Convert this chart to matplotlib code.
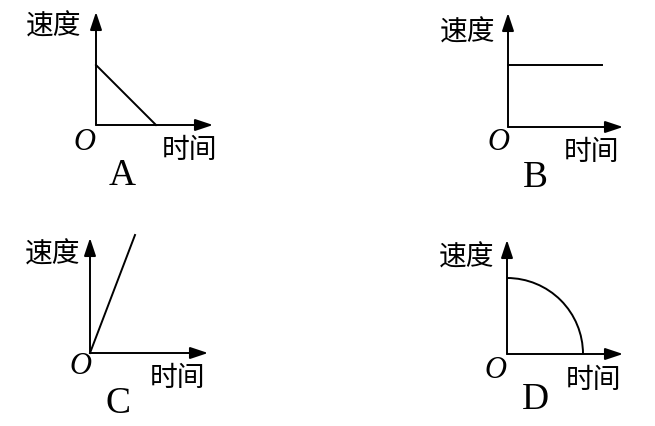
import matplotlib.pyplot as plt
from matplotlib.patches import Arc

plt.rcParams['font.family'] = ['Noto Sans CJK SC', 'DejaVu Sans']

W, H = 655, 426
PX = 20.0  # pixels per data unit

# data (time, speed) for each option
a_time = [0, 3.0]
a_speed = [3.0, 0]
b_time = [0, 4.7]
b_speed = [3.1, 3.1]
c_time = [0, 2.25]
c_speed = [0, 5.9]
d_radius = 3.8   # quarter circle

panel_names = ['A', 'B', 'C', 'D']
y_label = '速度'
x_label = '时间'

# layout: origin pixel, x tip, y tip, label offsets (dx, dy) in pixels
layout = {
    'A': dict(o=(96, 125), xt=213, yt=12, v=(-42, 98), O=(-12, -18), t=(94, -25), n=(26, -51)),
    'B': dict(o=(508, 127), xt=623, yt=13, v=(-40, 94), O=(-10, -15), t=(84, -25), n=(27, -51)),
    'C': dict(o=(90, 353), xt=208, yt=238, v=(-37, 98), O=(-10, -14), t=(88, -25), n=(28, -51)),
    'D': dict(o=(507, 354), xt=623, yt=240, v=(-40, 96), O=(-12, -16), t=(87, -26), n=(28, -46)),
}

fig = plt.figure(figsize=(W / 100, H / 100), dpi=100)

axes = {}
for name in panel_names:
    L = layout[name]
    ox, oy = L['o']
    w = L['xt'] - ox
    h = oy - L['yt']
    ax = fig.add_axes([ox / W, (H - oy) / H, w / W, h / H])
    ax.set_xlim(0, w / PX)
    ax.set_ylim(0, h / PX)
    ax.axis('off')
    arrow = dict(arrowstyle='-|>,head_length=0.6,head_width=0.2', color='black', lw=1.4,
                 mutation_scale=18, shrinkA=0, shrinkB=0)
    ax.annotate('', xy=(1, 0), xytext=(0, 0), xycoords='axes fraction', arrowprops=arrow)
    ax.annotate('', xy=(0, 1), xytext=(0, 0), xycoords='axes fraction', arrowprops=arrow)
    ax.annotate(y_label, xy=(0, 0), xycoords='axes fraction', xytext=L['v'], textcoords='offset pixels',
                ha='center', va='center', fontsize=20)
    ax.annotate(x_label, xy=(0, 0), xycoords='axes fraction', xytext=L['t'], textcoords='offset pixels',
                ha='center', va='center', fontsize=20)
    ax.annotate('O', xy=(0, 0), xycoords='axes fraction', xytext=L['O'], textcoords='offset pixels',
                ha='center', va='center', fontsize=22, family='Liberation Serif', style='italic')
    ax.annotate(name, xy=(0, 0), xycoords='axes fraction', xytext=L['n'], textcoords='offset pixels',
                ha='center', va='center', fontsize=27, family='Liberation Serif')
    axes[name] = ax

axes['A'].plot(a_time, a_speed, color='black', lw=1.4, clip_on=False)
axes['B'].plot(b_time, b_speed, color='black', lw=1.4, clip_on=False)
axes['C'].plot(c_time, c_speed, color='black', lw=1.4, clip_on=False)
axes['D'].add_patch(Arc((0, 0), 2 * d_radius, 2 * d_radius, theta1=0, theta2=90,
                        color='black', lw=1.4, clip_on=False))

fig.savefig('out.png', dpi=100)
